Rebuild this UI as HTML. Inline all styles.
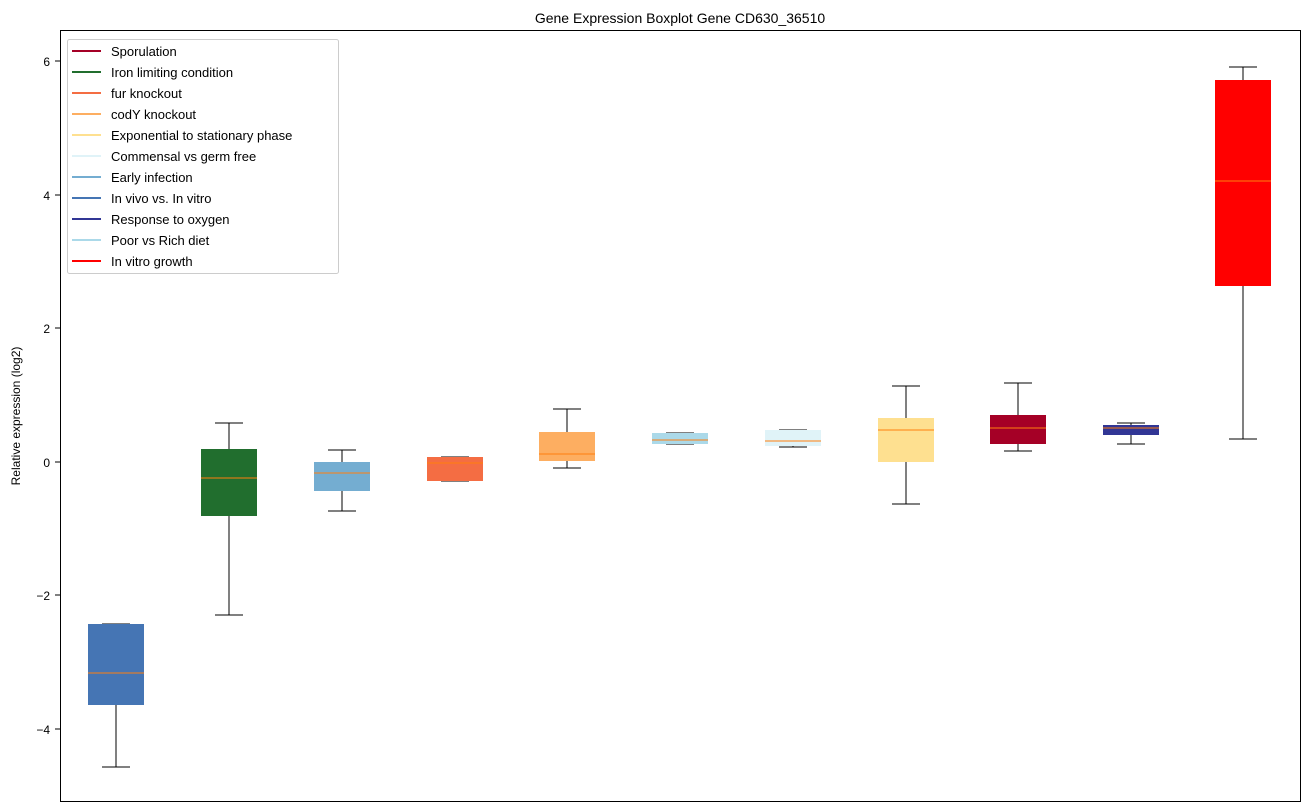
<!DOCTYPE html>
<html><head><meta charset="utf-8"><style>
html,body{margin:0;padding:0;background:#fff;}
svg{display:block;font-family:"Liberation Sans","DejaVu Sans",sans-serif;}
</style></head><body>
<svg width="1309" height="812" viewBox="0 0 1309 812" xmlns="http://www.w3.org/2000/svg">
<rect width="1309" height="812" fill="#fff"/>
<text x="680" y="23" font-size="14" text-anchor="middle" fill="#000">Gene Expression Boxplot Gene CD630_36510</text>
<g font-size="12" fill="#000" text-anchor="end">
<text x="50" y="66">6</text><text x="50" y="200">4</text><text x="50" y="333">2</text>
<text x="50" y="467">0</text><text x="50" y="600">−2</text><text x="50" y="734">−4</text>
</g>
<g stroke="#000" stroke-width="1">
<line x1="55" y1="61" x2="60" y2="61"/><line x1="55" y1="195" x2="60" y2="195"/><line x1="55" y1="328" x2="60" y2="328"/>
<line x1="55" y1="462" x2="60" y2="462"/><line x1="55" y1="595" x2="60" y2="595"/><line x1="55" y1="729" x2="60" y2="729"/>
</g>
<text transform="translate(20,416) rotate(-90)" font-size="12" text-anchor="middle">Relative expression (log2)</text>
<g stroke="#000" stroke-width="1" fill="none">
<!-- whiskers and caps -->
<path d="M116,705V767M102,767H130M116,624V624M102,624H130"/>
<path d="M229,516V615M215,615H243M229,449V423M215,423H243"/>
<path d="M342,491V511M328,511H356M342,462V450M328,450H356"/>
<path d="M455,481V481M441,481H469M455,457V457M441,457H469"/>
<path d="M567,461V468M553,468H581M567,432V409M553,409H581"/>
<path d="M680,444V444M666,444H694M680,433V433M666,433H694"/>
<path d="M793,446V447M779,447H807M793,430V430M779,430H807"/>
<path d="M906,462V504M892,504H920M906,418V386M892,386H920"/>
<path d="M1018,444V451M1004,451H1032M1018,415V383M1004,383H1032"/>
<path d="M1131,435V444M1117,444H1145M1131,425V423M1117,423H1145"/>
<path d="M1243,286V439M1229,439H1257M1243,80V67M1229,67H1257"/>
</g>
<g>
<rect x="88" y="624" width="56" height="81" fill="#4575b4"/>
<rect x="201" y="449" width="56" height="67" fill="#216e2e"/>
<rect x="314" y="462" width="56" height="29" fill="#74add1"/>
<rect x="427" y="457" width="56" height="24" fill="#f46d43"/>
<rect x="539" y="432" width="56" height="29" fill="#fdae61"/>
<rect x="652" y="433" width="56" height="11" fill="#abd9e9"/>
<rect x="765" y="430" width="56" height="16" fill="#e0f3f8"/>
<rect x="878" y="418" width="56" height="44" fill="#fee090"/>
<rect x="990" y="415" width="56" height="29" fill="#a50026"/>
<rect x="1103" y="425" width="56" height="10" fill="#313695"/>
<rect x="1215" y="80" width="56" height="206" fill="#ff0000"/>
</g>
<g stroke="#ff7f0e" stroke-width="1">
<line x1="88" y1="673" x2="144" y2="673"/><line x1="201" y1="478" x2="257" y2="478"/>
<line x1="314" y1="473" x2="370" y2="473"/><line x1="427" y1="463" x2="483" y2="463"/>
<line x1="539" y1="454" x2="595" y2="454"/><line x1="652" y1="440" x2="708" y2="440"/>
<line x1="765" y1="441" x2="821" y2="441"/><line x1="878" y1="430" x2="934" y2="430"/>
<line x1="990" y1="428" x2="1046" y2="428"/><line x1="1103" y1="428" x2="1159" y2="428"/>
<line x1="1215" y1="181" x2="1271" y2="181"/>
</g>
<rect x="60.5" y="30.5" width="1240" height="771" fill="none" stroke="#000" stroke-width="1"/>
<rect x="67.5" y="39.5" width="271" height="234" rx="2" fill="#fff" fill-opacity="0.8" stroke="#ccc"/>
<g stroke-width="2">
<line x1="72" y1="51" x2="101" y2="51" stroke="#a50026"/>
<line x1="72" y1="72" x2="101" y2="72" stroke="#216e2e"/>
<line x1="72" y1="93" x2="101" y2="93" stroke="#f46d43"/>
<line x1="72" y1="114" x2="101" y2="114" stroke="#fdae61"/>
<line x1="72" y1="135" x2="101" y2="135" stroke="#fee090"/>
<line x1="72" y1="156" x2="101" y2="156" stroke="#e0f3f8"/>
<line x1="72" y1="177" x2="101" y2="177" stroke="#74add1"/>
<line x1="72" y1="198" x2="101" y2="198" stroke="#4575b4"/>
<line x1="72" y1="219" x2="101" y2="219" stroke="#313695"/>
<line x1="72" y1="240" x2="101" y2="240" stroke="#abd9e9"/>
<line x1="72" y1="261" x2="101" y2="261" stroke="#ff0000"/>
</g>
<g font-size="13" fill="#000">
<text x="111" y="56">Sporulation</text>
<text x="111" y="77">Iron limiting condition</text>
<text x="111" y="98">fur knockout</text>
<text x="111" y="119">codY knockout</text>
<text x="111" y="140">Exponential to stationary phase</text>
<text x="111" y="161">Commensal vs germ free</text>
<text x="111" y="182">Early infection</text>
<text x="111" y="203">In vivo vs. In vitro</text>
<text x="111" y="224">Response to oxygen</text>
<text x="111" y="245">Poor vs Rich diet</text>
<text x="111" y="266">In vitro growth</text>
</g>
</svg>
</body></html>
